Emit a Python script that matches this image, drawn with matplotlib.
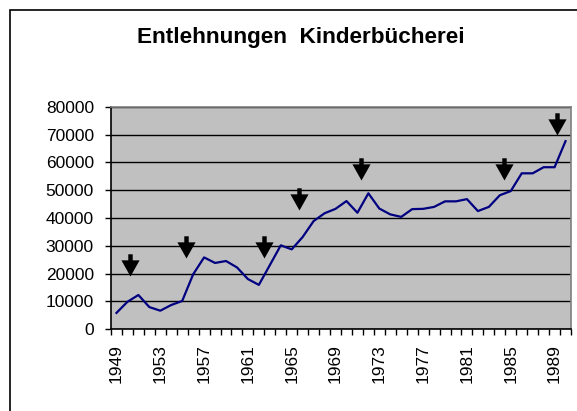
import matplotlib
matplotlib.use("Agg")
import matplotlib.pyplot as plt
from matplotlib.path import Path
from matplotlib.patches import Rectangle
import numpy as np

years = list(range(1949, 1991))
loans = [5800, 9800, 12250, 7900, 6600, 8650, 10100, 19700, 25800, 23800,
         24500, 22200, 18000, 15900, 23000, 30150, 28700, 33150, 38900, 41700,
         43300, 46100, 41900, 48900, 43400, 41300, 40400, 43200, 43300, 44000,
         46000, 46000, 46800, 42500, 44000, 48200, 49700, 56100, 56100, 58300,
         58300, 67700]

# arrow annotations: fractional year position and value at arrow tip
arrow_years = [1950.25, 1955.35, 1962.45, 1965.7, 1971.35, 1984.4, 1989.25]
arrow_tips = [19100, 25500, 25500, 42900, 53700, 53700, 69900]

title = "Entlehnungen  Kinderbücherei"
yticks = list(range(0, 80001, 10000))
label_years = years[::4]

plt.rcParams['font.family'] = ['Liberation Sans', 'DejaVu Sans']

fig = plt.figure(figsize=(5.77, 4.11), dpi=100)
fig.patches.append(Rectangle((10/577, -0.1), 1.2, 1 - 10/411 + 0.1,
                             transform=fig.transFigure, fill=False,
                             edgecolor='black', linewidth=1.2))
ax = fig.add_axes([111/577, 1 - 329/411, 460/577, 222/411])
ax.set_facecolor('#C0C0C0')

idx = np.arange(len(years))
ax.plot(idx, loans, color='#000080', linewidth=1.6, zorder=3)

# arrow marker: tip at origin, pointing down
verts = [(0, 0), (9, 16), (2.2, 16), (2.2, 22), (-2.2, 22), (-2.2, 16), (-9, 16), (0, 0)]
codes = [Path.MOVETO] + [Path.LINETO] * 6 + [Path.CLOSEPOLY]
arrow_path = Path(verts, codes)
ax_pos = [y - years[0] for y in arrow_years]
ax.plot(ax_pos, arrow_tips, linestyle='none', marker=arrow_path,
        markersize=32, color='black', markeredgewidth=0, zorder=4)

ax.set_xlim(-0.5, len(years) - 0.5)
ax.set_ylim(0, 80000)
ax.set_yticks(yticks)
ax.set_yticklabels([str(v) for v in yticks], fontsize=12.5)
ax.yaxis.grid(True, color='black', linewidth=1.0)
ax.set_axisbelow(True)

ax.set_xticks(np.arange(-0.5, len(years), 1.0))
ax.set_xticklabels([])
ax.set_xticks([years.index(y) for y in label_years], minor=True)
ax.set_xticklabels([str(y) for y in label_years], minor=True, rotation=90,
                   fontsize=12.5)
ax.tick_params(axis='x', which='minor', length=0, pad=11)
ax.tick_params(axis='x', which='major', length=4.3, direction='out', width=1)
ax.tick_params(axis='y', length=4.3, width=1, pad=8)

for s in ['top', 'right']:
    ax.spines[s].set_color('#808080')
    ax.spines[s].set_linewidth(1.2)
for s in ['left', 'bottom']:
    ax.spines[s].set_color('black')
    ax.spines[s].set_linewidth(1.2)

fig.text(301/577, 1 - 38/411, title, ha='center', va='center',
         fontsize=16.2, fontweight='bold')

fig.savefig('out.png', dpi=100)
